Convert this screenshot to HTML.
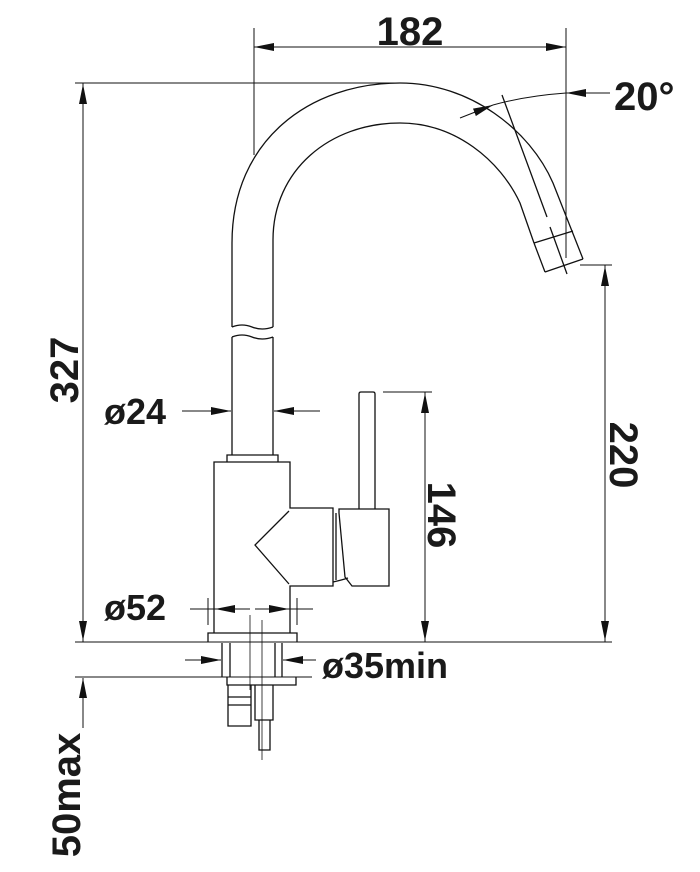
<!DOCTYPE html>
<html><head><meta charset="utf-8"><style>
html,body{margin:0;padding:0;background:#fff}
svg{display:block}
text{font-family:"Liberation Sans",Arial,sans-serif;font-weight:bold;fill:#1a1a1a}
</style></head><body>
<svg width="700" height="872" viewBox="0 0 700 872" xmlns="http://www.w3.org/2000/svg">
<defs>
<marker id="a" viewBox="0 0 20 8" refX="20" refY="4" markerWidth="20" markerHeight="8" markerUnits="userSpaceOnUse" orient="auto"><path d="M0,0 L20,4 L0,8 Z" fill="#111"/></marker>
</defs>
<g fill="none" stroke="#111" stroke-width="1.3">
<path d="M232,327 L232,243 C232,140 310,83 400,83 C470,83 530,130 553,183 L583,259"/>
<path d="M273,327 L273,240 C273,170 330,123 400,123 C455,123 500,160 520,203 L534,243"/>
<path d="M534,243 L573,231 M545,272 L583,259 M534,243 L545,272"/>
<path d="M502,95 L547,217 M550,227 L567,274"/>
<path d="M232,327 q10,-4 20,0 t21,0 M232,337 q10,-4 20,0 t21,0"/>
<path d="M232,337 L232,455 M273,337 L273,455"/>
<path d="M227,462 L227,455 L278,455 L278,462"/>
<path d="M214,633 L214,462 L290,462 L290,508 L333,508 L333,586 L290,586 L290,633"/>
<path d="M289,511 L255,545 L289,584"/>
<path d="M336,513 L336,580"/>
<path d="M359,509 L359,394 Q359,392 361,392 L373,392 Q375,392 375,394 L375,509"/>
<path d="M339,509 L389,509 L389,586 L352,586 L345,577 L339,513 Z"/>
<path d="M333,582 Q342,580 348,578"/>
<path d="M208,642 L208,633 L297,633 L297,642"/>
<path d="M222,643 L222,677 M282,643 L282,677 M230,643 L230,677 M275,643 L275,677"/>
<path d="M227,677 L227,685 L296,685 L296,677"/>
<path d="M228,685 L228,726 L251,726 L251,685"/>
<path d="M228,697 L251,697 M228,705 L251,705"/>
<path d="M255,685 L255,720 L273,720 L273,685 M259,720 L259,750 L270,750 L270,720"/>
<path d="M250,615 L250,690 M262,620 L262,760" stroke-width="0.8"/>
</g>
<g fill="none" stroke="#111" stroke-width="1">
<path d="M75,642 L612,642"/>
<path d="M75,677 L312,677"/>
<path d="M75,83 L400,83"/>
<path d="M254,28 L254,155 M566,28 L566,258"/>
<path d="M580,265 L612,265"/>
<path d="M383,392 L432,392"/>
<path d="M208,598 L208,625 M297,598 L297,625"/>
<path d="M254,47 L566,47 M83,83 L83,642 M605,265 L605,642 M425,392 L425,642"/>
<path d="M410,47 L254,47" marker-end="url(#a)"/>
<path d="M410,47 L566,47" marker-end="url(#a)"/>
<path d="M83,300 L83,84" marker-end="url(#a)"/>
<path d="M83,400 L83,641" marker-end="url(#a)"/>
<path d="M605,400 L605,266" marker-end="url(#a)"/>
<path d="M605,500 L605,641" marker-end="url(#a)"/>
<path d="M425,500 L425,393" marker-end="url(#a)"/>
<path d="M425,560 L425,641" marker-end="url(#a)"/>
<path d="M83,728 L83,678" marker-end="url(#a)"/>
<path d="M182,411 L231,411" marker-end="url(#a)"/>
<path d="M320,411 L274,411" marker-end="url(#a)"/>
<path d="M250,609 L215,609" marker-end="url(#a)"/>
<path d="M255,609 L289,609" marker-end="url(#a)"/>
<path d="M190,609 L215,609 M289,609 L313,609"/>
<path d="M185,660 L221,660" marker-end="url(#a)"/>
<path d="M316,660 L283,660" marker-end="url(#a)"/>
<path d="M610,93 L566,93" marker-end="url(#a)"/>
<path d="M566,93 Q525,96 493,105"/>
<path d="M460,118 L493,105" marker-end="url(#a)"/>
</g>
<text x="410" y="45" font-size="40" text-anchor="middle">182</text>
<text x="614" y="110" font-size="40">20°</text>
<text x="104" y="424" font-size="36">ø24</text>
<text x="104" y="620" font-size="36">ø52</text>
<text x="322" y="678" font-size="36">ø35min</text>
<text transform="translate(78,370) rotate(-90)" font-size="40" text-anchor="middle">327</text>
<text transform="translate(610,455) rotate(90)" font-size="40" text-anchor="middle">220</text>
<text transform="translate(428,515) rotate(90)" font-size="40" text-anchor="middle">146</text>
<text transform="translate(80,795) rotate(-90)" font-size="40" text-anchor="middle">50max</text>
</svg>
</body></html>
